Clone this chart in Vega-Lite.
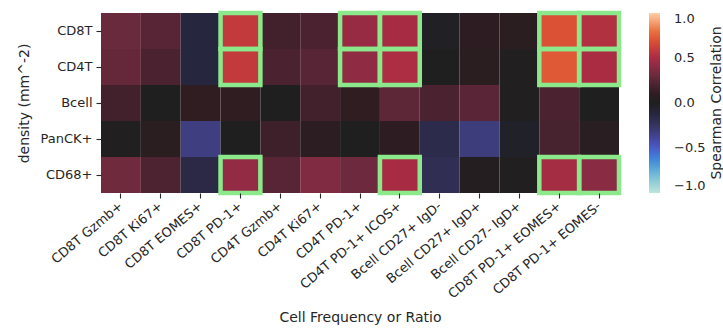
{
  "$schema": "https://vega.github.io/schema/vega-lite/v6.json",
  "width": 518,
  "height": 180,
  "autosize": "none",
  "padding": {"left": 101, "top": 13, "right": 104, "bottom": 135},
  "config": {
    "view": {"stroke": null},
    "font": "DejaVu Sans",
    "axis": {"labelFont": "DejaVu Sans", "titleFont": "DejaVu Sans", "labelColor": "#262626", "titleColor": "#262626", "tickColor": "#262626", "domain": false, "grid": false, "labelFontSize": 13, "titleFontSize": 14, "titleFontWeight": "normal", "tickSize": 5, "tickWidth": 1.1},
    "legend": {"labelFont": "DejaVu Sans", "titleFont": "DejaVu Sans"}
  },
  "data": {
    "values": [
      {"row": "CD8T", "col": "CD8T Gzmb+", "r": 0.30, "sig": false},
      {"row": "CD8T", "col": "CD8T Ki67+", "r": 0.24, "sig": false},
      {"row": "CD8T", "col": "CD8T EOMES+", "r": -0.12, "sig": false},
      {"row": "CD8T", "col": "CD8T PD-1+", "r": 0.59, "sig": true},
      {"row": "CD8T", "col": "CD4T Gzmb+", "r": 0.17, "sig": false},
      {"row": "CD8T", "col": "CD4T Ki67+", "r": 0.20, "sig": false},
      {"row": "CD8T", "col": "CD4T PD-1+", "r": 0.44, "sig": true},
      {"row": "CD8T", "col": "CD4T PD-1+ ICOS+", "r": 0.49, "sig": true},
      {"row": "CD8T", "col": "Bcell CD27+ IgD-", "r": -0.02, "sig": false},
      {"row": "CD8T", "col": "Bcell CD27+ IgD+", "r": 0.09, "sig": false},
      {"row": "CD8T", "col": "Bcell CD27- IgD+", "r": 0.07, "sig": false},
      {"row": "CD8T", "col": "CD8T PD-1+ EOMES+", "r": 0.69, "sig": true},
      {"row": "CD8T", "col": "CD8T PD-1+ EOMES-", "r": 0.53, "sig": true},
      {"row": "CD4T", "col": "CD8T Gzmb+", "r": 0.28, "sig": false},
      {"row": "CD4T", "col": "CD8T Ki67+", "r": 0.20, "sig": false},
      {"row": "CD4T", "col": "CD8T EOMES+", "r": -0.12, "sig": false},
      {"row": "CD4T", "col": "CD8T PD-1+", "r": 0.59, "sig": true},
      {"row": "CD4T", "col": "CD4T Gzmb+", "r": 0.20, "sig": false},
      {"row": "CD4T", "col": "CD4T Ki67+", "r": 0.24, "sig": false},
      {"row": "CD4T", "col": "CD4T PD-1+", "r": 0.42, "sig": true},
      {"row": "CD4T", "col": "CD4T PD-1+ ICOS+", "r": 0.51, "sig": true},
      {"row": "CD4T", "col": "Bcell CD27+ IgD-", "r": 0.0, "sig": false},
      {"row": "CD4T", "col": "Bcell CD27+ IgD+", "r": 0.07, "sig": false},
      {"row": "CD4T", "col": "Bcell CD27- IgD+", "r": 0.01, "sig": false},
      {"row": "CD4T", "col": "CD8T PD-1+ EOMES+", "r": 0.72, "sig": true},
      {"row": "CD4T", "col": "CD8T PD-1+ EOMES-", "r": 0.50, "sig": true},
      {"row": "Bcell", "col": "CD8T Gzmb+", "r": 0.17, "sig": false},
      {"row": "Bcell", "col": "CD8T Ki67+", "r": 0.0, "sig": false},
      {"row": "Bcell", "col": "CD8T EOMES+", "r": 0.10, "sig": false},
      {"row": "Bcell", "col": "CD8T PD-1+", "r": 0.10, "sig": false},
      {"row": "Bcell", "col": "CD4T Gzmb+", "r": 0.0, "sig": false},
      {"row": "Bcell", "col": "CD4T Ki67+", "r": 0.17, "sig": false},
      {"row": "Bcell", "col": "CD4T PD-1+", "r": 0.10, "sig": false},
      {"row": "Bcell", "col": "CD4T PD-1+ ICOS+", "r": 0.26, "sig": false},
      {"row": "Bcell", "col": "Bcell CD27+ IgD-", "r": 0.20, "sig": false},
      {"row": "Bcell", "col": "Bcell CD27+ IgD+", "r": 0.25, "sig": false},
      {"row": "Bcell", "col": "Bcell CD27- IgD+", "r": 0.01, "sig": false},
      {"row": "Bcell", "col": "CD8T PD-1+ EOMES+", "r": 0.20, "sig": false},
      {"row": "Bcell", "col": "CD8T PD-1+ EOMES-", "r": 0.0, "sig": false},
      {"row": "PanCK+", "col": "CD8T Gzmb+", "r": 0.02, "sig": false},
      {"row": "PanCK+", "col": "CD8T Ki67+", "r": 0.07, "sig": false},
      {"row": "PanCK+", "col": "CD8T EOMES+", "r": -0.33, "sig": false},
      {"row": "PanCK+", "col": "CD8T PD-1+", "r": 0.0, "sig": false},
      {"row": "PanCK+", "col": "CD4T Gzmb+", "r": 0.15, "sig": false},
      {"row": "PanCK+", "col": "CD4T Ki67+", "r": 0.08, "sig": false},
      {"row": "PanCK+", "col": "CD4T PD-1+", "r": 0.0, "sig": false},
      {"row": "PanCK+", "col": "CD4T PD-1+ ICOS+", "r": 0.09, "sig": false},
      {"row": "PanCK+", "col": "Bcell CD27+ IgD-", "r": -0.17, "sig": false},
      {"row": "PanCK+", "col": "Bcell CD27+ IgD+", "r": -0.32, "sig": false},
      {"row": "PanCK+", "col": "Bcell CD27- IgD+", "r": -0.04, "sig": false},
      {"row": "PanCK+", "col": "CD8T PD-1+ EOMES+", "r": 0.19, "sig": false},
      {"row": "PanCK+", "col": "CD8T PD-1+ EOMES-", "r": 0.06, "sig": false},
      {"row": "CD68+", "col": "CD8T Gzmb+", "r": 0.32, "sig": false},
      {"row": "CD68+", "col": "CD8T Ki67+", "r": 0.21, "sig": false},
      {"row": "CD68+", "col": "CD8T EOMES+", "r": -0.15, "sig": false},
      {"row": "CD68+", "col": "CD8T PD-1+", "r": 0.43, "sig": true},
      {"row": "CD68+", "col": "CD4T Gzmb+", "r": 0.24, "sig": false},
      {"row": "CD68+", "col": "CD4T Ki67+", "r": 0.37, "sig": false},
      {"row": "CD68+", "col": "CD4T PD-1+", "r": 0.31, "sig": false},
      {"row": "CD68+", "col": "CD4T PD-1+ ICOS+", "r": 0.49, "sig": true},
      {"row": "CD68+", "col": "Bcell CD27+ IgD-", "r": -0.20, "sig": false},
      {"row": "CD68+", "col": "Bcell CD27+ IgD+", "r": 0.04, "sig": false},
      {"row": "CD68+", "col": "Bcell CD27- IgD+", "r": 0.02, "sig": false},
      {"row": "CD68+", "col": "CD8T PD-1+ EOMES+", "r": 0.48, "sig": true},
      {"row": "CD68+", "col": "CD8T PD-1+ EOMES-", "r": 0.40, "sig": true}
    ]
  },
  "encoding": {
    "x": {
      "field": "col", "type": "nominal", "sort": null,
      "scale": {"paddingInner": 0, "paddingOuter": 0},
      "axis": {"title": "Cell Frequency or Ratio", "labelAngle": -40, "labelAlign": "right", "labelBaseline": "middle", "labelPadding": 6, "titlePadding": 10, "labelLimit": 300, "labelFontSize": 13}
    },
    "y": {
      "field": "row", "type": "nominal", "sort": ["CD8T", "CD4T", "Bcell", "PanCK+", "CD68+"],
      "scale": {"paddingInner": 0, "paddingOuter": 0},
      "axis": {"title": "density (mm^-2)", "labelPadding": 4, "titlePadding": 9, "labelFontSize": 13}
    }
  },
  "layer": [
    {
      "mark": {"type": "rect"},
      "encoding": {
        "color": {
          "field": "r", "type": "quantitative",
          "scale": {
            "domain": [-1, -0.9, -0.8, -0.7, -0.6, -0.5, -0.4, -0.3, -0.2, -0.1, 0, 0.1, 0.2, 0.3, 0.4, 0.5, 0.6, 0.7, 0.8, 0.9, 1],
            "range": ["#bde6dc", "#98d2d8", "#72bcd8", "#4f9fd8", "#3f7ed8", "#4a5cc8", "#4547a0", "#3b3a72", "#302e52", "#25243a", "#1f1f20", "#2f1d22", "#4a2230", "#6a2a3d", "#8a2b44", "#aa2c43", "#c63c3c", "#dc5334", "#ea7240", "#f6a070", "#fdd0a8"],
            "interpolate": "rgb"
          },
          "legend": {
            "title": "Spearman Correlation",
            "orient": "right",
            "offset": 30,
            "padding": 0,
            "direction": "vertical",
            "gradientLength": 180,
            "gradientThickness": 11,
            "gradientStrokeWidth": 0,
            "values": [-1, -0.5, 0, 0.5, 1],
            "labelExpr": "replace(format(datum.value, '.1f'), '-', '\u2212')",
            "labelFontSize": 13,
            "labelColor": "#262626",
            "labelOffset": 14,
            "titleOrient": "right",
            "titleAnchor": "middle",
            "titleFontSize": 14,
            "titleFontWeight": "normal",
            "titleColor": "#262626",
            "titlePadding": 6,
            "encode": {"title": {"update": {"angle": {"value": -90}, "dy": {"value": 12}}}}
          }
        }
      }
    },
    {
      "transform": [{"filter": "datum.sig"}],
      "mark": {"type": "rect", "fill": null, "fillOpacity": 0, "stroke": "#8be98b", "strokeWidth": 4.5}
    }
  ]
}
